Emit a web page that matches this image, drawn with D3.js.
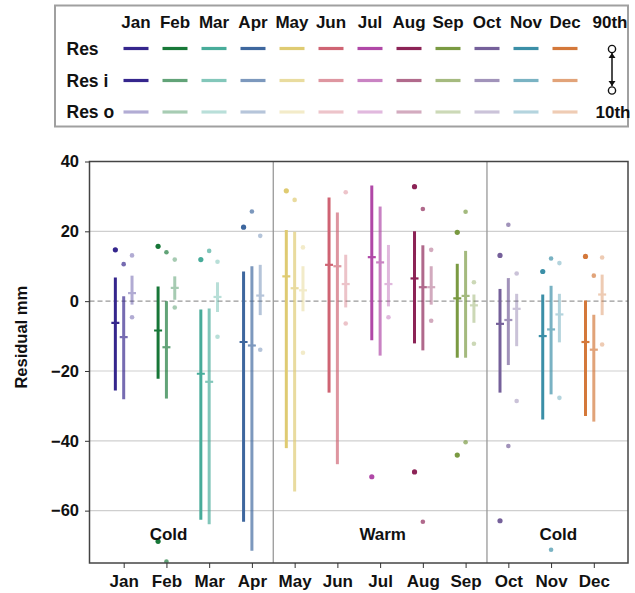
<!DOCTYPE html>
<html>
<head>
<meta charset="utf-8">
<script src="https://cdn.jsdelivr.net/npm/d3@7"></script>
<style>
    body { margin: 0; background: #fff; }
    text { font-family: "Liberation Sans", Arial, sans-serif; font-weight: bold; fill: #111; }
</style>
</head>
<body>
<div id="chart"></div>
<script>
const months = ['Jan', 'Feb', 'Mar', 'Apr', 'May', 'Jun', 'Jul', 'Aug', 'Sep', 'Oct', 'Nov', 'Dec'];
const seriesNames = ['Res', 'Res i', 'Res o'];
const monthColors = ['#35268d', '#187838', '#48ac9a', '#3e679e', '#dfcb72', '#cf6473',
                     '#b048a7', '#8c2356', '#7a9a42', '#75609a', '#3b8fa7', '#d4783a'];
const yTicks = [40, 20, 0, -20, -40, -60];
const seasons = ['Cold', 'Warm', 'Cold'];
const seasonBreaks = ['Apr', 'Sep'];

// Res: line ends, median, outlying points (null = off the chart)
const resTop = [6.8, 4.2, -2.4, 8.5, 20.4, 29.7, 33.1, 20.0, 10.7, 3.5, 1.9, 0.2];
const resMed = [-6.2, -8.4, -20.8, -11.7, 7.1, 10.4, 12.6, 6.5, 0.8, -6.5, -10.0, -11.7];
const resBot = [-25.6, -22.2, -62.6, -63.2, -42.1, -26.2, -11.2, -12.1, -16.2, -26.2, -33.9, -32.9];
const resHiDot = [14.7, 15.7, 11.9, 21.2, 31.6, null, null, 32.8, 19.7, 13.1, 8.5, 12.8];
const resLoDot = [null, -68.8, null, null, null, null, -50.3, -48.9, -44.1, -62.9, null, null];

// Res i
const resITop = [1.4, 0.0, -2.1, 10.0, 19.9, 25.4, 27.1, 16.0, 14.4, 6.6, 4.4, -3.9];
const resIMed = [-10.3, -13.2, -23.1, -12.7, 3.7, 10.0, 11.1, 4.0, 1.5, -5.4, -8.1, -13.9];
const resIBot = [-28.1, -27.9, -63.9, -71.5, -54.5, -46.7, -15.6, -14.1, -16.2, -18.3, -26.7, -34.5];
const resIHiDot = [10.6, 14.0, 14.4, 25.7, 29.0, null, null, 26.4, 25.6, 21.9, 12.2, 7.3];
const resILoDot = [null, -74.6, null, null, null, null, null, -63.2, -40.4, -41.5, -71.2, null];

// Res o
const resOTop = [7.3, 7.1, 5.4, 10.4, 10.0, 13.3, 16.1, 10.0, 1.9, 2.1, 2.1, 7.6];
const resOMed = [2.3, 3.8, 1.2, 1.6, 3.1, 4.9, 4.9, 4.0, -1.2, -2.2, -3.8, 1.9];
const resOBot = [-1.0, 0.4, -3.1, -4.0, -2.9, -1.8, -1.5, -1.0, -6.2, -12.9, -11.8, -4.0];
const resOHiDot = [13.1, 11.9, 11.3, 18.7, 15.4, 31.2, null, 14.7, 5.4, 7.9, 10.9, 12.5];
const resOLoDot = [-4.6, -1.8, -10.2, -13.9, -14.8, -6.4, -4.6, -5.6, -12.2, -28.6, -27.7, -12.4];

const seriesData = [
    [resTop, resMed, resBot, resHiDot, resLoDot],
    [resITop, resIMed, resIBot, resIHiDot, resILoDot],
    [resOTop, resOMed, resOBot, resOHiDot, resOLoDot]
];
const seriesOpacity = [1, 0.68, 0.38];
const seriesOffset = [-0.195, 0, 0.195];

const width = 635, height = 593;
const plot = { left: 89.5, right: 628, top: 161.5, bottom: 563 };

const svg = d3.select('#chart').append('svg')
    .attr('width', width)
    .attr('height', height);

svg.append('rect').attr('width', width).attr('height', height).attr('fill', '#fff');

const x = d3.scalePoint().domain(months).range([plot.left, plot.right]).padding(0.8);
const step = x.step();
const y = d3.scaleLinear().domain([-75, 40]).range([plot.bottom, plot.top]);
const xi = d3.scaleLinear().domain([0, 11]).range([x('Jan'), x('Dec')]);

// ---- legend ----
const legend = svg.append('g');
legend.append('rect')
    .attr('x', 55).attr('y', 5.5).attr('width', 573).attr('height', 121)
    .attr('fill', 'none').attr('stroke', '#a0a0a0').attr('stroke-width', 2);

const lx = d3.scalePoint().domain(months).range([136, 565]);
const rowY = [48.5, 80.5, 112];

legend.selectAll('text.head')
    .data(months)
    .enter().append('text')
    .attr('class', 'head')
    .attr('x', d => lx(d)).attr('y', 22)
    .attr('text-anchor', 'middle').attr('dominant-baseline', 'central')
    .attr('font-size', 17)
    .text(d => d);

legend.selectAll('text.row')
    .data(seriesNames)
    .enter().append('text')
    .attr('class', 'row')
    .attr('x', 66.5).attr('y', (d, i) => rowY[i])
    .attr('dominant-baseline', 'central')
    .attr('font-size', 17.5)
    .text(d => d);

seriesNames.forEach((s, si) => {
    legend.selectAll(null)
        .data(months)
        .enter().append('line')
        .attr('x1', d => lx(d) - 12.5).attr('x2', d => lx(d) + 12.5)
        .attr('y1', rowY[si]).attr('y2', rowY[si])
        .attr('stroke', (d, i) => monthColors[i])
        .attr('stroke-opacity', (d, i) => (si === 1 && i === 0) ? 1 : seriesOpacity[si])
        .attr('stroke-width', 3.2);
});

// percentile key
const kx = 612;
legend.append('text').attr('x', 610).attr('y', 22)
    .attr('text-anchor', 'middle').attr('dominant-baseline', 'central')
    .attr('font-size', 17).text('90th');
legend.append('text').attr('x', 613).attr('y', 112)
    .attr('text-anchor', 'middle').attr('dominant-baseline', 'central')
    .attr('font-size', 17).text('10th');
legend.append('line')
    .attr('x1', kx).attr('x2', kx).attr('y1', 53).attr('y2', 86)
    .attr('stroke', '#111').attr('stroke-width', 1.5);
legend.append('path')
    .attr('d', `M${kx},53 L${kx - 3.5},58 L${kx + 3.5},58 Z M${kx},86 L${kx - 3.5},81 L${kx + 3.5},81 Z`)
    .attr('fill', '#111');
[49, 90.5].forEach(cy => {
    legend.append('circle')
        .attr('cx', kx).attr('cy', cy).attr('r', 3.6)
        .attr('fill', '#fff').attr('stroke', '#111').attr('stroke-width', 1.4);
});

// ---- plot ----
svg.append('clipPath').attr('id', 'plotclip')
    .append('rect')
    .attr('x', plot.left).attr('y', plot.top)
    .attr('width', plot.right - plot.left).attr('height', plot.bottom - plot.top);

const grid = svg.append('g');
grid.selectAll('line')
    .data(yTicks.filter(d => d !== 0 && d !== 40))
    .enter().append('line')
    .attr('x1', plot.left).attr('x2', plot.right)
    .attr('y1', d => y(d)).attr('y2', d => y(d))
    .attr('stroke', '#cfcfcf').attr('stroke-width', 1.2);

svg.append('line')
    .attr('x1', plot.left).attr('x2', plot.right)
    .attr('y1', y(0)).attr('y2', y(0))
    .attr('stroke', '#999').attr('stroke-width', 1.4)
    .attr('stroke-dasharray', '5,3');

svg.selectAll('line.sep')
    .data(seasonBreaks)
    .enter().append('line')
    .attr('class', 'sep')
    .attr('x1', d => x(d) + step / 2).attr('x2', d => x(d) + step / 2)
    .attr('y1', plot.top).attr('y2', plot.bottom)
    .attr('stroke', '#999').attr('stroke-width', 1.3);

const marks = svg.append('g').attr('clip-path', 'url(#plotclip)');

seriesData.forEach(([top, med, bot, hiDot, loDot], si) => {
    const g = marks.append('g').attr('opacity', seriesOpacity[si]);
    const cx = i => x(months[i]) + seriesOffset[si] * step;
    const rows = months.map((m, i) => ({ i, top: top[i], med: med[i], bot: bot[i], hi: hiDot[i], lo: loDot[i] }));

    g.selectAll('line.bar')
        .data(rows)
        .enter().append('line')
        .attr('class', 'bar')
        .attr('x1', d => cx(d.i)).attr('x2', d => cx(d.i))
        .attr('y1', d => y(d.top)).attr('y2', d => y(d.bot))
        .attr('stroke', d => monthColors[d.i])
        .attr('stroke-width', 3);

    g.selectAll('line.med')
        .data(rows)
        .enter().append('line')
        .attr('class', 'med')
        .attr('x1', d => cx(d.i) - 4).attr('x2', d => cx(d.i) + 4)
        .attr('y1', d => y(d.med)).attr('y2', d => y(d.med))
        .attr('stroke', d => monthColors[d.i])
        .attr('stroke-width', 2.2);

    const dots = rows.flatMap(d => [
        { i: d.i, v: d.hi },
        { i: d.i, v: d.lo }
    ]).filter(d => d.v !== null);

    g.selectAll('circle')
        .data(dots)
        .enter().append('circle')
        .attr('cx', d => cx(d.i)).attr('cy', d => y(d.v))
        .attr('r', si === 0 ? 2.6 : 2.3)
        .attr('fill', d => monthColors[d.i]);
});

// season labels
const seasonPos = [1.05, 6.06, 10.17];
svg.selectAll('text.season')
    .data(seasons)
    .enter().append('text')
    .attr('class', 'season')
    .attr('x', (d, i) => xi(seasonPos[i]))
    .attr('y', y(-66.7))
    .attr('text-anchor', 'middle').attr('dominant-baseline', 'central')
    .attr('font-size', 17)
    .text(d => d);

// frame
svg.append('rect')
    .attr('x', plot.left).attr('y', plot.top)
    .attr('width', plot.right - plot.left).attr('height', plot.bottom - plot.top)
    .attr('fill', 'none').attr('stroke', '#444').attr('stroke-width', 1.5);

// axes
const yAxis = svg.append('g')
    .attr('transform', `translate(${plot.left},0)`)
    .call(d3.axisLeft(y).tickValues(yTicks).tickSize(4.5).tickPadding(6).tickFormat(d3.format('d')));
yAxis.select('.domain').remove();
yAxis.selectAll('text').attr('font-size', 16.5).attr('fill', '#111')
    .style('font-family', '"Liberation Sans", Arial, sans-serif').style('font-weight', 'bold');
yAxis.selectAll('line').attr('stroke', '#333');

const xAxis = svg.append('g')
    .attr('transform', `translate(0,${plot.bottom})`)
    .call(d3.axisBottom(x).tickSize(5).tickPadding(7));
xAxis.select('.domain').remove();
xAxis.selectAll('text').attr('font-size', 17).attr('fill', '#111')
    .style('font-family', '"Liberation Sans", Arial, sans-serif').style('font-weight', 'bold');
xAxis.selectAll('line').attr('stroke', '#333');

svg.append('text')
    .attr('transform', `translate(21,${(plot.top + plot.bottom) / 2 - 25}) rotate(-90)`)
    .attr('text-anchor', 'middle').attr('dominant-baseline', 'central')
    .attr('font-size', 16.5)
    .text('Residual mm');
</script>
</body>
</html>
